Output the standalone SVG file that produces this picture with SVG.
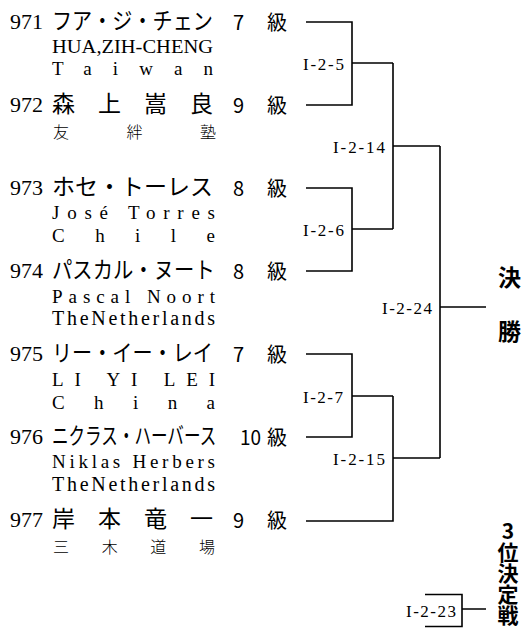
<svg xmlns="http://www.w3.org/2000/svg" width="525" height="628" viewBox="0 0 525 628">
<style>
.num{font-family:"Liberation Serif",serif;font-size:22px;fill:#000}
.name{font-family:"Noto Sans CJK JP",sans-serif;font-size:23px;fill:#000}
.grade{font-family:"Noto Sans CJK JP",sans-serif;font-size:20px;fill:#000}
.sub{font-family:"Liberation Serif","Noto Sans CJK JP",serif;font-size:19px;fill:#000}
.subw{font-family:"Liberation Serif",serif;font-size:20px;fill:#000}
.subj{font-family:"Noto Sans CJK JP",sans-serif;font-size:16px;font-weight:300;fill:#000}
.lbl{font-family:"Liberation Serif",serif;font-size:17px;fill:#000}
.final{font-family:"Noto Sans CJK JP",sans-serif;font-size:23px;font-weight:bold;fill:#000}
.v{font-family:"Noto Sans CJK JP",sans-serif;font-size:21px;font-weight:bold;fill:#000;writing-mode:vertical-rl;text-orientation:upright}
.ln{stroke:#000;stroke-width:1.6;fill:none}
</style>
<rect width="525" height="628" fill="#fff"/>
<g id="p971">
<text class="num" x="10" y="29">971</text>
<text class="name" transform="translate(52 29) scale(0.875 1)">フア・ジ・チェン</text>
<text class="grade" x="233" y="30">7</text>
<text class="grade" x="267" y="30">級</text>
<text class="sub" x="52" y="53" textLength="161" lengthAdjust="spacingAndGlyphs">HUA,ZIH-CHENG</text>
<text class="sub" x="52" y="75" textLength="161" lengthAdjust="spacing">Taiwan</text>
</g>
<g id="p972">
<text class="num" x="10" y="112">972</text>
<text class="name" x="52" y="112" textLength="161" lengthAdjust="spacing">森 上 嵩 良</text>
<text class="grade" x="233" y="113">9</text>
<text class="grade" x="267" y="113">級</text>
<text class="subj" x="53" y="138" textLength="163" lengthAdjust="spacing">友 絆 塾</text>
</g>
<g id="p973">
<text class="num" x="10" y="195">973</text>
<text class="name" x="52" y="195">ホセ・トーレス</text>
<text class="grade" x="233" y="196">8</text>
<text class="grade" x="267" y="196">級</text>
<text class="sub" x="52" y="219" textLength="163" lengthAdjust="spacing">José Torres</text>
<text class="sub" x="52" y="242" textLength="163" lengthAdjust="spacing">Chile</text>
</g>
<g id="p974">
<text class="num" x="10" y="278">974</text>
<text class="name" transform="translate(52 278) scale(0.885 1)">パスカル・ヌート</text>
<text class="grade" x="233" y="279">8</text>
<text class="grade" x="267" y="279">級</text>
<text class="sub" x="52" y="303" textLength="163" lengthAdjust="spacing">Pascal Noort</text>
<text class="subw" x="52" y="325" textLength="163" lengthAdjust="spacing">TheNetherlands</text>
</g>
<g id="p975">
<text class="num" x="10" y="361">975</text>
<text class="name" transform="translate(52 361) scale(0.875 1)">リー・イー・レイ</text>
<text class="grade" x="233" y="362">7</text>
<text class="grade" x="267" y="362">級</text>
<text class="sub" x="52" y="386" textLength="163" lengthAdjust="spacing">LI YI LEI</text>
<text class="sub" x="52" y="409" textLength="163" lengthAdjust="spacing">China</text>
</g>
<g id="p976">
<text class="num" x="10" y="444">976</text>
<text class="name" transform="translate(52 444) scale(0.72 1)">ニクラス・ハーバース</text>
<text class="grade" transform="translate(240 445) scale(0.95 1)">10</text>
<text class="grade" x="267" y="445">級</text>
<text class="sub" x="52" y="468" textLength="163" lengthAdjust="spacing">Niklas Herbers</text>
<text class="subw" x="52" y="491" textLength="163" lengthAdjust="spacing">TheNetherlands</text>
</g>
<g id="p977">
<text class="num" x="10" y="527">977</text>
<text class="name" x="52" y="527" textLength="161" lengthAdjust="spacing">岸 本 竜 一</text>
<text class="grade" x="233" y="528">9</text>
<text class="grade" x="267" y="528">級</text>
<text class="subj" x="53" y="552.5" textLength="162" lengthAdjust="spacing">三 木 道 場</text>
</g>
<g id="m5"><text class="lbl" x="303" y="70" textLength="41" lengthAdjust="spacing">I-2-5</text></g>
<g id="m6"><text class="lbl" x="303" y="236" textLength="41" lengthAdjust="spacing">I-2-6</text></g>
<g id="m7"><text class="lbl" x="303" y="403" textLength="40" lengthAdjust="spacing">I-2-7</text></g>
<g id="m14"><text class="lbl" x="333" y="153" textLength="52" lengthAdjust="spacing">I-2-14</text></g>
<g id="m15"><text class="lbl" x="333" y="465" textLength="52" lengthAdjust="spacing">I-2-15</text></g>
<g id="m24"><text class="lbl" x="382" y="314" textLength="50" lengthAdjust="spacing">I-2-24</text></g>
<g id="m23"><text class="lbl" x="406" y="617" textLength="50" lengthAdjust="spacing">I-2-23</text></g>
<g id="final">
<text class="final" x="498" y="286">決</text>
<text class="final" x="498" y="340">勝</text>
</g>
<g id="third">
<text class="v" x="508" y="521">3位決定戦</text>
</g>
<g id="connectors">
<path class="ln" d="M306 22H352V105H306M352 63H393"/>
<path class="ln" d="M306 188H352V271H306M352 229H393"/>
<path class="ln" d="M393 63V229M393 146H440"/>
<path class="ln" d="M306 354H352V437H306M352 396H393"/>
<path class="ln" d="M306 521H393V396M393 458H440"/>
<path class="ln" d="M440 146V458M440 307H486"/>
<path class="ln" d="M425 594.5H462V626.5H425M462 609H486"/>
</g>
</svg>
